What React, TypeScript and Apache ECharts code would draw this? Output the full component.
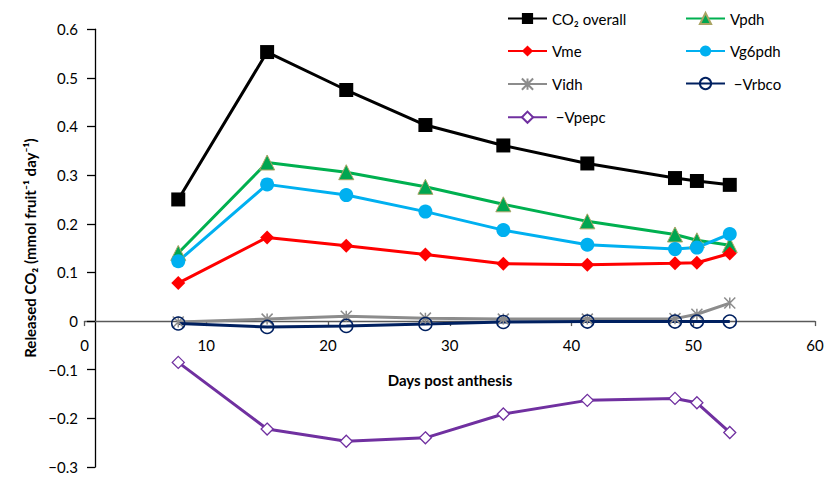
import React, { useEffect, useRef } from "react";
import * as echarts from "echarts";

const days = [7.7, 15, 21.5, 28, 34.4, 41.3, 48.5, 50.3, 53];
const co2Overall = [0.25, 0.553, 0.475, 0.403, 0.361, 0.324, 0.294, 0.288, 0.28];
const vpdh = [0.14, 0.326, 0.306, 0.276, 0.24, 0.205, 0.178, 0.166, 0.156];
const vme = [0.078, 0.172, 0.155, 0.137, 0.118, 0.116, 0.119, 0.12, 0.139];
const vg6pdh = [0.123, 0.281, 0.259, 0.225, 0.187, 0.157, 0.148, 0.151, 0.179];
const vidh = [-0.002, 0.004, 0.01, 0.006, 0.004, 0.004, 0.005, 0.014, 0.037];
const vrbco = [-0.005, -0.012, -0.01, -0.006, -0.002, -0.001, -0.001, -0.001, -0.001];
const vpepc = [-0.085, -0.222, -0.247, -0.24, -0.191, -0.163, -0.159, -0.168, -0.229];

const names = ["CO₂ overall", "Vpdh", "Vme", "Vg6pdh", "Vidh", "−Vrbco", "−Vpepc"];
const xTitle = "Days post anthesis";
const yTitle = "Released CO₂ (mmol fruit⁻¹ day⁻¹)";
const FONT = "Lato, 'DejaVu Sans', sans-serif";

const starPath = "path://M0,0L10,10M10,0L0,10M5,0L5,10";

const X_MIN = 0;
const X_MAX = 60;
const Y_MIN = -0.3;
const Y_MAX = 0.6;

function pairs(ys: number[]) {
  return days.map((d, i) => [d, ys[i]]);
}

export default function App() {
  const ref = useRef<HTMLDivElement>(null);
  useEffect(() => {
    const chart = echarts.init(ref.current!, undefined, { renderer: "svg" });
    const lw = 3;
    const H = 477;
    const top = 29.2;
    const bottom = 10;
    const plotH = H - top - bottom;
    const zeroY = top + (plotH * Y_MAX) / (Y_MAX - Y_MIN);
    const legendCommon = {
      orient: "vertical" as const,
      itemWidth: 39,
      itemHeight: 14,
      itemGap: 17.5,
      padding: 0,
      textStyle: { fontFamily: FONT, fontSize: 15, color: "#000", lineHeight: 14 },
      formatter: (n: string) => (n.startsWith("−") ? "\u2005" + n : n),
    };
    chart.setOption({
      animation: false,
      textStyle: { fontFamily: FONT },
      grid: [
        { left: 84.5, right: 23, top, bottom, containLabel: false, outerBoundsMode: "none" },
        { left: 84.5, right: 23, top, bottom: H - zeroY, containLabel: false, outerBoundsMode: "none" },
      ],
      legend: [
        { ...legendCommon, left: 507, top: 11, data: [names[0], names[2], names[4], names[6]] },
        { ...legendCommon, left: 685, top: 11, data: [names[1], names[3], names[5]] },
      ],
      graphic: [
        {
          type: "text",
          x: 450,
          y: 372,
          style: {
            text: xTitle,
            align: "center",
            fontFamily: FONT,
            fontSize: 15,
            fontWeight: "bold",
            fill: "#000",
          },
        },
      ],
      xAxis: [
        {
          type: "value",
          gridIndex: 0,
          min: X_MIN,
          max: X_MAX,
          interval: 10,
          show: false,
          splitLine: { show: false },
        },
        {
          type: "value",
          gridIndex: 1,
          position: "bottom",
          min: X_MIN,
          max: X_MAX,
          interval: 10,
          axisLine: { onZero: false, lineStyle: { color: "#595959", width: 1.3 } },
          axisTick: { show: true, inside: false, length: 5, lineStyle: { color: "#595959", width: 1.3 } },
          axisLabel: { fontFamily: FONT, fontSize: 15, color: "#000", margin: 16 },
          splitLine: { show: false },
        },
      ],
      yAxis: [
        {
          type: "value",
          gridIndex: 0,
          min: Y_MIN,
          max: Y_MAX,
          interval: 0.1,
          offset: -10.5,
          name: yTitle,
          nameLocation: "middle",
          nameGap: 55,
          nameTextStyle: { fontFamily: FONT, fontSize: 15, fontWeight: "bold", color: "#000" },
          axisLine: { show: true, onZero: false, lineStyle: { color: "#000", width: 1.3 } },
          axisTick: { show: true, inside: false, length: 8, lineStyle: { color: "#000", width: 1.3 } },
          axisLabel: {
            fontFamily: FONT,
            fontSize: 15,
            color: "#000",
            margin: 17,
            formatter: (v: number) => {
              const r = Math.round(v * 10) / 10;
              if (r === 0) return "0";
              return r < 0 ? "−" + Math.abs(r).toFixed(1) : r.toFixed(1);
            },
          },
          splitLine: { show: false },
        },
        {
          type: "value",
          gridIndex: 1,
          min: 0,
          max: Y_MAX,
          show: false,
          splitLine: { show: false },
        },
      ],
      series: [
        {
          name: names[0],
          type: "line",
          data: pairs(co2Overall),
          symbol: "rect",
          symbolSize: 14,
          lineStyle: { color: "#000", width: lw },
          itemStyle: { color: "#000" },
        },
        {
          name: names[1],
          type: "line",
          data: pairs(vpdh),
          symbol: "triangle",
          symbolSize: 15,
          lineStyle: { color: "#00B050", width: lw },
          itemStyle: { color: "#00A651", borderColor: "#A9A463", borderWidth: 1 },
        },
        {
          name: names[2],
          type: "line",
          data: pairs(vme),
          symbol: "diamond",
          symbolSize: 14,
          lineStyle: { color: "#FF0000", width: lw },
          itemStyle: { color: "#FF0000" },
        },
        {
          name: names[3],
          type: "line",
          data: pairs(vg6pdh),
          symbol: "circle",
          symbolSize: 14,
          lineStyle: { color: "#00B0F0", width: lw },
          itemStyle: { color: "#00B0F0" },
        },
        {
          name: names[4],
          type: "line",
          data: pairs(vidh),
          symbol: starPath,
          symbolSize: 11,
          lineStyle: { color: "#8C8C8C", width: lw },
          itemStyle: { color: "none", borderColor: "#8C8C8C", borderWidth: 1.5 },
        },
        {
          name: names[5],
          type: "line",
          data: pairs(vrbco),
          symbol: "circle",
          symbolSize: 13,
          lineStyle: { color: "#002060", width: lw },
          itemStyle: { color: "transparent", borderColor: "#002060", borderWidth: 1.5 },
        },
        {
          name: names[6],
          type: "line",
          data: pairs(vpepc),
          symbol: "diamond",
          symbolSize: 12,
          lineStyle: { color: "#7030A0", width: lw },
          itemStyle: { color: "#fff", borderColor: "#7030A0", borderWidth: 1.3 },
        },
      ],
    });
    return () => chart.dispose();
  }, []);
  return (
    <div
      ref={ref}
      style={{ position: "fixed", left: 0, top: 0, width: 838, height: 477, background: "#fff" }}
    />
  );
}
